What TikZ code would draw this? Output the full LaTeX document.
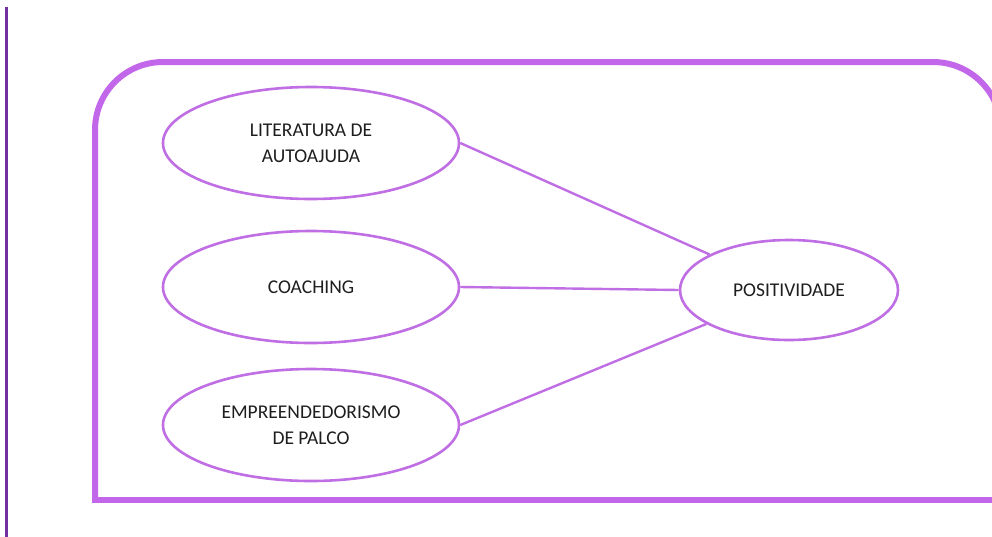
\documentclass[tikz,border=0pt]{standalone}
\usepackage{fontspec}
\setmainfont{Carlito}
\usepackage{tikz}
\usetikzlibrary{shapes.geometric}
\usetikzlibrary{positioning}
\definecolor{darkpurple}{RGB}{112,48,160}
\definecolor{framepurple}{RGB}{194,102,234}
\definecolor{linepurple}{RGB}{192,110,228}
\definecolor{textgray}{RGB}{30,30,30}

\begin{document}
\begin{tikzpicture}[
            x = 1pt, y = -1pt, % pixel units, y going down
            node distance = 144pt,
            line join = round
        ]

        \tikzstyle{idea}=[
            ellipse,
            draw = linepurple,
            line width = 2.6pt,
            fill = white,
            text = textgray,
            align = center,
            minimum width = 296pt,
            minimum height = 112pt,
            font = \fontsize{19.5}{26}\selectfont
        ]
        \tikzstyle{link}=[
            draw = linepurple,
            line width = 2.4pt
        ]

        \useasboundingbox (0,0) rectangle (992,536);
        \clip (0,0) rectangle (992,536);

        % side bar
        \draw[darkpurple, line width = 3pt] (6.5,7) -- (6.5,540);

        % frame
        \draw[framepurple, line width = 6pt, rounded corners = 68pt]
            (95,500) -- (95,62) -- (1001,62) -- (1001,520);
        \draw[framepurple, line width = 6pt, line cap = rect] (95,500) -- (1010,500);

        % sources
        \node[idea] (L) at (311,143) {LITERATURA DE\\AUTOAJUDA};
        \node[idea] (C) [below of = L] {COACHING};
        \node[idea] (E) at (311,425) {EMPREENDEDORISMO\\DE PALCO};

        % target
        \node[idea, minimum width = 218pt, minimum height = 100pt] (P) at (789,290) {POSITIVIDADE};

        \path[link] (L.east) -- (P);
        \path[link] (C.east) -- (P.west);
        \path[link] (E.east) -- (P);

  \end{tikzpicture}
\end{document}
